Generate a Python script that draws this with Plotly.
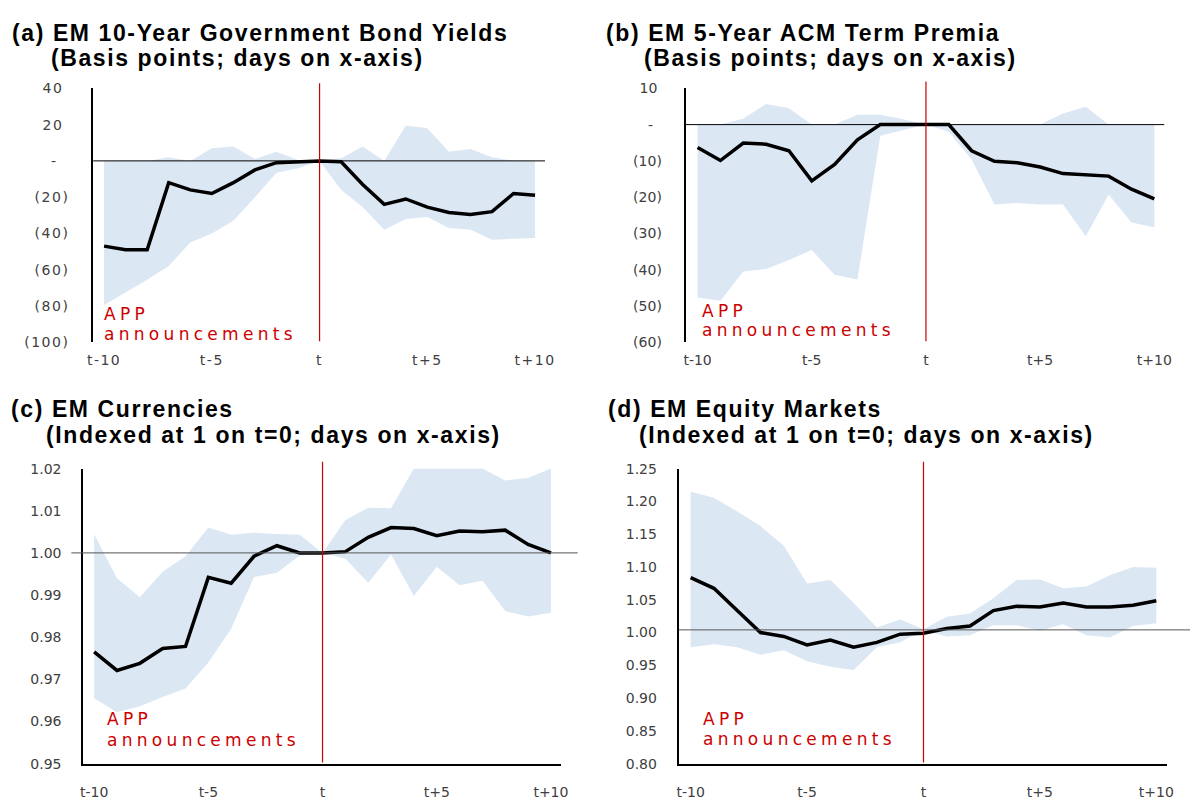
import plotly.graph_objects as go

# ---------------- data ----------------
days = list(range(-10, 11))
day_ticks = [-10, -5, 0, 5, 10]
day_tick_labels = ["t-10", "t-5", "t", "t+5", "t+10"]

# (a) EM 10-year government bond yields (basis points)
yields_mean = [-47, -49, -49, -12, -16, -18, -12, -5, -1, -0.5, 0,
               -0.5, -13, -24, -21, -25.5, -28.5, -29.5, -28, -18, -19]
yields_upper = [0, 0, 0, 2, 0, 7, 8, 1, 5, 0.5, 0,
                1.5, 8, 0, 19.5, 18, 5, 6.5, 2, 0, 0]
yields_lower = [-79.5, -72.5, -65.5, -58, -45, -40, -33, -20, -6.5, -4, 0,
                -16, -25.5, -38, -32, -31, -37, -38, -43.5, -43, -42.5]
yields_ticks = [40, 20, 0, -20, -40, -60, -80, -100]
yields_tick_labels = ["40\u00a0", "20\u00a0", "-\u00a0\u00a0", "(20)", "(40)", "(60)", "(80)", "(100)"]

# (b) EM 5-year ACM term premia (basis points)
tp_mean = [-6.3, -9.9, -5.1, -5.4, -7.2, -15.5, -11, -4.2, 0, 0, 0,
           0, -7.2, -10.1, -10.5, -11.7, -13.5, -13.9, -14.2, -17.8, -20.5]
tp_upper = [0, 0, 1.6, 5.7, 4.5, 0, 0, 2.7, 2.7, 1.5, 0,
            0, 0, 0, 0, 0, 3.1, 4.9, 0, 0, 0]
tp_lower = [-47.7, -48.6, -40.5, -39.8, -37.3, -34.6, -41.4, -42.7, -3.1, -1.5, 0,
            -2, -9.6, -22, -21.6, -22, -22, -30.8, -19.3, -27, -28.3]
tp_ticks = [10, 0, -10, -20, -30, -40, -50, -60]
tp_tick_labels = ["10\u00a0", "-\u00a0\u00a0", "(10)", "(20)", "(30)", "(40)", "(50)", "(60)"]

# (c) EM currencies (indexed at 1 on t=0)
fx_mean = [0.9765, 0.9721, 0.9738, 0.9773, 0.9778, 0.9942, 0.9928, 0.9992, 1.0017, 1.0000, 1.0000,
           1.0003, 1.0037, 1.0060, 1.0058, 1.0041, 1.0052, 1.0050, 1.0054, 1.0020, 1.0000]
fx_upper = [1.0044, 0.9940, 0.9895, 0.9955, 0.9992, 1.0060, 1.0043, 1.0048, 1.0045, 1.0043, 1.0000,
            1.0078, 1.0107, 1.0106, 1.0200, 1.0200, 1.0200, 1.0200, 1.0172, 1.0178, 1.0200]
fx_lower = [0.9655, 0.9622, 0.9636, 0.9658, 0.9678, 0.9740, 0.9820, 0.9943, 0.9953, 0.9994, 1.0000,
            0.9986, 0.9929, 0.9996, 0.9898, 0.9967, 0.9923, 0.9934, 0.9862, 0.9849, 0.9858]
fx_ticks = [1.02, 1.01, 1.00, 0.99, 0.98, 0.97, 0.96, 0.95]

# (d) EM equity markets (indexed at 1 on t=0)
eq_mean = [1.0838, 1.0674, 1.0335, 1.000, 0.994, 0.9811, 0.9886, 0.9775, 0.985, 0.9975, 0.999,
           1.006, 1.010, 1.0335, 1.040, 1.039, 1.045, 1.039, 1.039, 1.0415, 1.0485]
eq_upper = [1.2147, 1.2057, 1.1847, 1.1623, 1.1323, 1.0749, 1.080, 1.045, 1.0075, 1.020, 1.005,
            1.024, 1.029, 1.0524, 1.080, 1.0808, 1.0674, 1.070, 1.0874, 1.0998, 1.0988]
eq_lower = [0.9775, 0.982, 0.9775, 0.966, 0.973, 0.956, 0.9476, 0.9427, 0.9775, 0.985, 1.004,
            0.994, 0.996, 1.011, 1.011, 1.0025, 1.0125, 0.996, 0.9925, 1.010, 1.014]
eq_ticks = [1.25, 1.20, 1.15, 1.10, 1.05, 1.00, 0.95, 0.90, 0.85, 0.80]

titles = [
    ("(a) EM 10-Year Government Bond Yields", "(Basis points; days on x-axis)"),
    ("(b) EM 5-Year ACM Term Premia", "(Basis points; days on x-axis)"),
    ("(c) EM Currencies", "(Indexed at 1 on t=0; days on x-axis)"),
    ("(d) EM Equity Markets", "(Indexed at 1 on t=0; days on x-axis)"),
]
event_label = ["APP", "announcements"]

# ---------------- styling / layout ----------------
W, H = 1198, 802
BAND = "#dce7f4"
RED = "#cc0000"
TICK_FONT = dict(family="DejaVu Sans", size=14, color="#404040")


def px(x):
    return x / W


def py(y):
    return 1 - y / H


panels = [
    dict(xd=(91, 560), yd=(82, 341), xr=[-10.506, 11.057], yr=[-100, 40],
         tv=yields_ticks, tt=yields_tick_labels, bottom=False,
         mean=yields_mean, up=yields_upper, lo=yields_lower, ref=0, refc="#000000",
         refx=(0, (547 - 91) / (560 - 91)), redtop=1.02, ylen=19, xlen=5,
         title_xy=((7, 26), (46, 51)), app_xy=(100, 312, 333)),
    dict(xd=(689, 1180), yd=(82, 341), xr=[-10.521, 10.781], yr=[-60, 10],
         tv=tp_ticks, tt=tp_tick_labels, bottom=False,
         mean=tp_mean, up=tp_upper, lo=tp_lower, ref=0, refc="#000000",
         refx=(0, (1172 - 689) / (1180 - 689)), redtop=1.027, ylen=19, xlen=5,
         title_xy=((607, 26), (645, 51)), app_xy=(703, 309, 329)),
    dict(xd=(81, 563), yd=(470, 771), xr=[-10.477, 10.434], yr=[0.95, 1.02],
         tv=fx_ticks, tt=["%.2f" % v for v in fx_ticks], bottom=True,
         mean=fx_mean, up=fx_upper, lo=fx_lower, ref=1.0, refc="#555555",
         refx=(-12 / 482, 499 / 482), redtop=1.023, ylen=17, xlen=15,
         title_xy=((6, 409), (41, 436)), app_xy=(103, 725, 747)),
    dict(xd=(682, 1175), yd=(470, 771), xr=[-10.511, 10.468], yr=[0.80, 1.25],
         tv=eq_ticks, tt=["%.2f" % v for v in eq_ticks], bottom=True,
         mean=eq_mean, up=eq_upper, lo=eq_lower, ref=1.004, refc="#555555",
         refx=(0, 516 / 493), redtop=1.023, ylen=17, xlen=15,
         title_xy=((609, 409), (640, 436)), app_xy=(704, 725, 746)),
]

fig = go.Figure()
layout = dict(
    width=W, height=H, autosize=False,
    margin=dict(l=0, r=0, t=0, b=0),
    paper_bgcolor="white", plot_bgcolor="rgba(0,0,0,0)",
    showlegend=False,
    shapes=[], annotations=[],
)

for i, p in enumerate(panels):
    n = "" if i == 0 else str(i + 1)
    xa, ya = "x" + n, "y" + n
    fig.add_trace(go.Scatter(x=days, y=p["lo"], mode="lines", line=dict(width=0, color=BAND),
                             xaxis=xa, yaxis=ya, hoverinfo="skip"))
    fig.add_trace(go.Scatter(x=days, y=p["up"], mode="lines", line=dict(width=0, color=BAND),
                             fill="tonexty", fillcolor=BAND, xaxis=xa, yaxis=ya, hoverinfo="skip"))
    fig.add_trace(go.Scatter(x=days, y=p["mean"], mode="lines", line=dict(width=3.5, color="black"),
                             xaxis=xa, yaxis=ya))

    layout["xaxis" + n] = dict(
        domain=[px(p["xd"][0]), px(p["xd"][1])], range=p["xr"], anchor=ya,
        tickmode="array", tickvals=day_ticks, ticktext=day_tick_labels,
        showgrid=False, zeroline=False,
        showline=p["bottom"], linecolor="black", linewidth=2,
        ticks="outside", ticklen=p["xlen"], tickcolor="rgba(0,0,0,0)",
        tickfont=TICK_FONT, fixedrange=True,
    )
    layout["yaxis" + n] = dict(
        domain=[py(p["yd"][1]), py(p["yd"][0])], range=p["yr"], anchor=xa,
        tickmode="array", tickvals=p["tv"], ticktext=p["tt"],
        showgrid=False, zeroline=False,
        showline=True, linecolor="black", linewidth=2,
        ticks="outside", ticklen=p["ylen"], tickcolor="rgba(0,0,0,0)",
        tickfont=TICK_FONT, fixedrange=True,
    )
    # reference line at zero / one
    layout["shapes"].append(dict(type="line", xref=xa + " domain", yref=ya,
                                 x0=p["refx"][0], x1=p["refx"][1], y0=p["ref"], y1=p["ref"],
                                 line=dict(color=p["refc"], width=1), layer="above"))
    # announcement day line
    layout["shapes"].append(dict(type="line", xref=xa, yref=ya + " domain",
                                 x0=0, x1=0, y0=0.004, y1=p["redtop"],
                                 line=dict(color=RED, width=1.2), layer="above"))
    # titles
    (x1, y1), (x2, y2) = p["title_xy"]
    for txt, xx, yy in ((titles[i][0], x1, y1), (titles[i][1], x2, y2)):
        layout["annotations"].append(dict(
            text=txt, xref="paper", yref="paper", x=px(xx), y=py(yy),
            xanchor="left", yanchor="middle", align="left", showarrow=False,
            font=dict(family="Liberation Sans, Arial", size=23, color="black", weight="bold")))
    # APP announcements label
    ax, ay1, ay2 = p["app_xy"]
    for txt, yy in ((event_label[0], ay1), (event_label[1], ay2)):
        layout["annotations"].append(dict(
            text=txt, xref="paper", yref="paper", x=px(ax), y=py(yy),
            xanchor="left", yanchor="middle", align="left", showarrow=False,
            font=dict(family="DejaVu Sans", size=17, color=RED)))

fig.update_layout(**layout)

post = """
document.body.style.margin = '0';
var gd = document.getElementById('{plot_id}');
function spacing(){
  gd.querySelectorAll('.xtick text, .ytick text').forEach(function(t){ t.style.letterSpacing = '1.5px'; });
  gd.querySelectorAll('.annotation-text').forEach(function(t){
    var s = t.textContent;
    if (s === 'APP' || s === 'announcements') { t.style.letterSpacing = '4.3px'; }
    else { t.style.letterSpacing = '1.6px'; }
  });
}
spacing();
gd.on('plotly_afterplot', spacing);
"""

fig.write_html("out.html", post_script=post, config={"displayModeBar": False})
